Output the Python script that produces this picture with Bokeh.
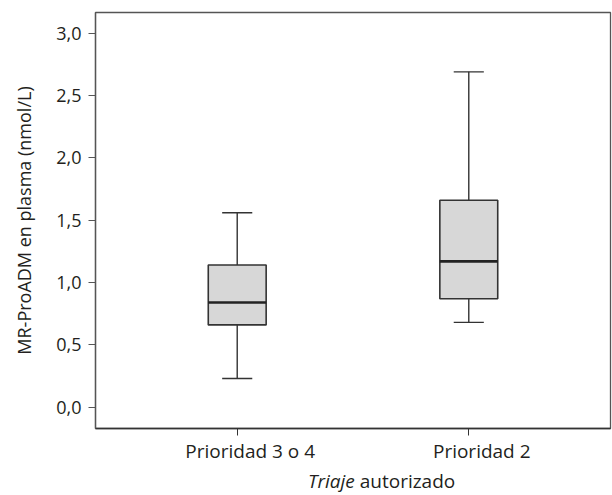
from bokeh.plotting import figure
from bokeh.models import Range1d, FixedTicker, LinearAxis, ColumnDataSource, Div
from bokeh.layouts import column
from bokeh.embed import file_html
from bokeh.resources import INLINE
import numpy as np

# ---- data ----
categories = ["Prioridad 3 o 4", "Prioridad 2"]
whisker_low = [0.23, 0.68]
q1 = [0.66, 0.87]
median = [0.84, 1.17]
q3 = [1.14, 1.66]
whisker_high = [1.56, 2.69]
y_ticks = [0.0, 0.5, 1.0, 1.5, 2.0, 2.5, 3.0]
y_tick_labels = ["0,0", "0,5", "1,0", "1,5", "2,0", "2,5", "3,0"]
y_title = "MR-ProADM en plasma (nmol/L)"
x_title_italic = "Triaje"
x_title_rest = "autorizado"

FONT = "Open Sans"
TXT = "#231f20"
LINE = "#333333"

x = np.arange(1, len(categories) + 1).astype(float)
box_w = 0.25
cap_w = 0.13
src = ColumnDataSource(dict(
    x=x, lo=whisker_low, q1=q1, med=median, q3=q3, hi=whisker_high,
    cl=x - cap_w / 2, cr=x + cap_w / 2, ml=x - box_w / 2, mr=x + box_w / 2,
))

X0, X1 = 0.388, 2.612
label_shift = 0.056  # category labels sit a little right of their ticks

p = figure(width=612, height=468, output_backend="svg", toolbar_location=None,
           x_range=Range1d(X0, X1), y_range=Range1d(-0.171, 3.166),
           min_border_left=95, min_border_right=2, min_border_top=12, min_border_bottom=40,
           background_fill_color="white", border_fill_color="white")
p.extra_x_ranges = {"lab": Range1d(X0 - label_shift, X1 - label_shift)}

p.xgrid.visible = False
p.ygrid.visible = False
p.outline_line_color = "#555555"
p.outline_line_width = 1.3

# whiskers
p.segment(x0="x", y0="q3", x1="x", y1="hi", source=src, line_color=LINE, line_width=1.4)
p.segment(x0="x", y0="lo", x1="x", y1="q1", source=src, line_color=LINE, line_width=1.4)
p.segment(x0="cl", y0="hi", x1="cr", y1="hi", source=src, line_color=LINE, line_width=1.4)
p.segment(x0="cl", y0="lo", x1="cr", y1="lo", source=src, line_color=LINE, line_width=1.4)
# boxes
p.vbar(x="x", width=box_w, bottom="q1", top="q3", source=src,
       fill_color="#d7d7d7", line_color=LINE, line_width=1.6)
# medians
p.segment(x0="ml", y0="med", x1="mr", y1="med", source=src, line_color="#222222", line_width=2.6)

# y axis
p.yaxis.ticker = FixedTicker(ticks=y_ticks, minor_ticks=[])
p.yaxis.major_label_overrides = {float(t): l for t, l in zip(y_ticks, y_tick_labels)}
p.yaxis.major_label_text_font = FONT
p.yaxis.major_label_text_font_size = "18px"
p.yaxis.major_label_text_color = TXT
p.yaxis.major_tick_out = 7
p.yaxis.major_tick_in = 0
p.yaxis.minor_tick_out = 0
p.yaxis.major_tick_line_color = "#555555"
p.yaxis.axis_line_color = "#555555"
p.yaxis.axis_line_width = 1.3
p.yaxis.major_label_standoff = 7
p.yaxis.axis_label = y_title
p.yaxis.axis_label_text_font = FONT
p.yaxis.axis_label_text_font_size = "18px"
p.yaxis.axis_label_text_font_style = "normal"
p.yaxis.axis_label_text_color = TXT
p.yaxis.axis_label_standoff = 17

# x axis: tick marks only
p.xaxis.ticker = FixedTicker(ticks=list(x), minor_ticks=[])
p.xaxis.major_label_overrides = {float(v): "" for v in x}
p.xaxis.major_label_text_font_size = "0px"
p.xaxis.major_label_standoff = 0
p.xaxis.major_tick_out = 7
p.xaxis.major_tick_in = 0
p.xaxis.minor_tick_out = 0
p.xaxis.major_tick_line_color = "#333333"
p.xaxis.axis_line_color = "#333333"
p.xaxis.axis_line_width = 1.5

# second x axis: category labels only
lab_axis = LinearAxis(x_range_name="lab", ticker=FixedTicker(ticks=list(x), minor_ticks=[]),
                      major_label_overrides={float(v): c for v, c in zip(x, categories)},
                      major_label_text_font=FONT, major_label_text_font_size="19px",
                      major_label_text_color=TXT, major_label_standoff=2,
                      major_tick_out=0, major_tick_in=0, minor_tick_out=0, minor_tick_in=0,
                      axis_line_color=None, major_tick_line_color=None, minor_tick_line_color=None)
p.add_layout(lab_axis, "below")

# x title with italic first word (HTML text below the figure)
title_div = Div(
    text=('<div style="padding-left:308px;font-family:\'Open Sans\';font-size:19px;'
          'line-height:27px;color:#231f20;white-space:nowrap">'
          f'<i>{x_title_italic}</i> {x_title_rest}</div>'),
    width=612, height=27, margin=0)

page = column(p, title_div, spacing=0)
open("out.html", "w").write(file_html(page, INLINE))
